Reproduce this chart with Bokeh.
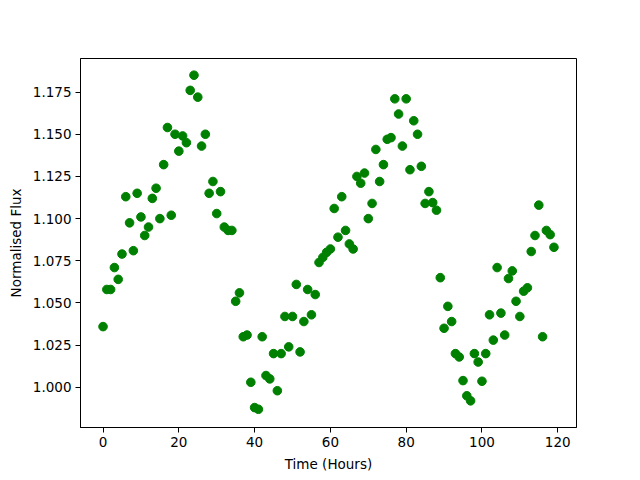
from bokeh.plotting import figure
from bokeh.models import Range1d, FixedTicker, PrintfTickFormatter
from bokeh.embed import file_html
from bokeh.resources import INLINE

flux = [
    1.036, 1.058, 1.058, 1.071, 1.064, 1.079, 1.113, 1.0975, 1.081, 1.115,
    1.101, 1.090, 1.095, 1.112, 1.118, 1.100, 1.132, 1.154, 1.102, 1.150,
    1.140, 1.149, 1.145, 1.176, 1.185, 1.172, 1.143, 1.150, 1.115, 1.122,
    1.103, 1.116, 1.095, 1.093, 1.093, 1.051, 1.056, 1.030, 1.031, 1.003,
    0.988, 0.987, 1.030, 1.007, 1.005, 1.020, 0.998, 1.020, 1.042, 1.024,
    1.042, 1.061, 1.021, 1.039, 1.058, 1.043, 1.055, 1.074, 1.077, 1.080,
    1.082, 1.106, 1.089, 1.113, 1.093, 1.085, 1.082, 1.125, 1.121, 1.127,
    1.100, 1.109, 1.141, 1.122, 1.132, 1.147, 1.148, 1.171, 1.162, 1.143,
    1.171, 1.129, 1.158, 1.150, 1.131, 1.109, 1.116, 1.1095, 1.105, 1.065,
    1.035, 1.048, 1.039, 1.020, 1.018, 1.004, 0.995, 0.992, 1.020, 1.015,
    1.0036, 1.020, 1.043, 1.028, 1.071, 1.044, 1.031, 1.0645, 1.069, 1.051,
    1.042, 1.057, 1.059, 1.0805, 1.090, 1.108, 1.030, 1.093, 1.0905, 1.083,
]
hours = list(range(len(flux)))

x_ticks = [0, 20, 40, 60, 80, 100, 120]
y_ticks = [1.000, 1.025, 1.050, 1.075, 1.100, 1.125, 1.150, 1.175]

FONT = "DejaVu Sans"
FS = "13.5px"

p = figure(width=640, height=480, output_backend="svg", toolbar_location=None,
           x_range=Range1d(-5.95, 124.95), y_range=Range1d(0.9762, 1.1949),
           min_border_left=80, min_border_right=64, min_border_top=58, min_border_bottom=53)

p.scatter(hours, flux, size=8.6, fill_color="#008000", line_color="#008000", line_width=1)

p.xgrid.visible = False
p.ygrid.visible = False
p.outline_line_color = "black"
p.outline_line_width = 1
p.background_fill_color = "white"
p.border_fill_color = "white"

p.xaxis.ticker = FixedTicker(ticks=x_ticks)
p.yaxis.ticker = FixedTicker(ticks=y_ticks)
p.yaxis.formatter = PrintfTickFormatter(format="%.3f")
p.xaxis.axis_label = "Time (Hours)"
p.yaxis.axis_label = "Normalised Flux"

for ax in (p.xaxis[0], p.yaxis[0]):
    ax.axis_line_color = "black"
    ax.major_tick_line_color = "black"
    ax.minor_tick_line_color = None
    ax.major_tick_out = 5
    ax.major_tick_in = 0
    ax.major_label_standoff = 4
    ax.major_label_text_font = FONT
    ax.major_label_text_font_size = FS
    ax.major_label_text_color = "black"
    ax.axis_label_text_font = FONT
    ax.axis_label_text_font_size = FS
    ax.axis_label_text_font_style = "normal"
    ax.axis_label_text_color = "black"
    ax.axis_label_standoff = 6

open("out.html", "w").write(file_html(p, INLINE))
